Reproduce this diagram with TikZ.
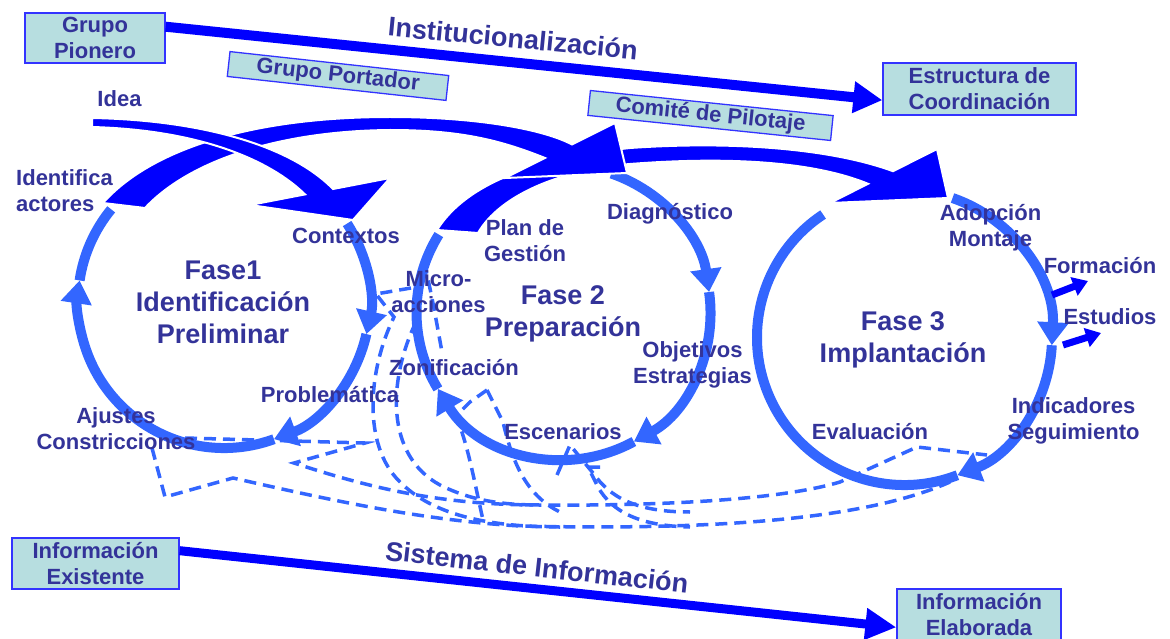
\documentclass[tikz,border=0pt]{standalone}
\usepackage{fontspec}
\setmainfont{Liberation Sans}
\usetikzlibrary{arrows.meta,calc}
\definecolor{txt}{HTML}{333399}
\definecolor{boxfill}{HTML}{B7DEE0}
\definecolor{boxline}{HTML}{3333FF}
\definecolor{bigblue}{HTML}{0000FF}
\definecolor{ringblue}{HTML}{3366FF}
\tikzset{
  lbl/.style={text=txt, font=\bfseries\fontsize{22}{26}\selectfont, align=center, inner sep=0pt},
  faselbl/.style={text=txt, font=\bfseries\fontsize{27}{32}\selectfont, align=center, inner sep=0pt},
  flowlbl/.style={text=txt, font=\bfseries\fontsize{27}{32}\selectfont, inner sep=0pt},
  infobox/.style={draw=boxline, line width=1.3pt, fill=boxfill, text=txt,
    font=\bfseries\fontsize{22}{26}\selectfont, align=center, inner sep=0pt},
  bigarrow/.style={fill=bigblue, draw=white, line width=2pt, line join=miter},
  flowline/.style={draw=bigblue, line width=10pt, -{Triangle[width=30pt,length=29pt]}},
  ring/.style={draw=ringblue, line width=10pt},
  ringtip/.style={-{Triangle[width=30pt,length=23pt]}},
  fb/.style={draw=ringblue, line width=3.5pt, dash pattern=on 12pt off 7pt},
  minor/.style={draw=bigblue, line width=7pt, -{Triangle[width=19pt,length=15pt]}},
}
\begin{document}
\begin{tikzpicture}[x=1pt,y=-1pt]
\fill[white] (0,0) rectangle (1170,639);
\useasboundingbox (0,0) rectangle (1170,639);

% ---------- circles ----------
\coordinate (c1) at (224,302);
\coordinate (c2) at (563.5,312.5);
\coordinate (c3) at (904.5,337.5);
\draw[ring,ringtip] (c1) ++(-32.5:146) arc[start angle=-32.5,end angle=12.7,radius=146];
\draw[ring,ringtip] (c1) ++(12.7:146) arc[start angle=12.7,end angle=70,radius=146];
\draw[ring,ringtip] (c1) ++(70:146) arc[start angle=70,end angle=188.5,radius=146];
\draw[ring] (c1) ++(188.5:146) arc[start angle=188.5,end angle=219.4,radius=146];

\draw[ring,ringtip] (c2) ++(-71:147) arc[start angle=-71,end angle=-8,radius=147];
\draw[ring,ringtip] (c2) ++(-8:147) arc[start angle=-8,end angle=61.4,radius=147];
\draw[ring,ringtip] (c2) ++(61.4:147) arc[start angle=61.4,end angle=148.7,radius=147];
\draw[ring] (c2) ++(148.7:147) arc[start angle=148.7,end angle=212,radius=147];

\draw[ring,ringtip] (c3) ++(-71:147.5) arc[start angle=-71,end angle=3,radius=147.5];
\draw[ring,ringtip] (c3) ++(3:147.5) arc[start angle=3,end angle=69,radius=147.5];
\draw[ring] (c3) ++(69:147.5) arc[start angle=69,end angle=236.5,radius=147.5];

% ---------- big curved arrows ----------
% Fase 2 -> Fase 3
\path[bigarrow] (437,230) .. controls (462,190) and (520,160) .. (630,148)
  .. controls (730,141) and (830,148) .. (893,171.2)
  -- (937,149) -- (948,198) -- (830,203) -- (868,183.8)
  .. controls (810,160) and (720,157) .. (630,164)
  .. controls (560,170) and (500,195) .. (478,233) -- cycle;
% Fase 1 -> Fase 2
\path[bigarrow] (103,203) .. controls (150,150) and (250,117) .. (390,117)
  .. controls (480,117) and (545,130) .. (572,144.5)
  -- (615,123) -- (627,173) -- (505,178) -- (545,158)
  .. controls (500,140) and (460,130) .. (390,130)
  .. controls (280,131) and (190,160) .. (145,208) -- cycle;
% Idea
\path[bigarrow] (92,118) .. controls (200,120) and (290,145) .. (333,189)
  -- (390,178) -- (353,220) -- (250,205) -- (305,194.4)
  .. controls (270,160) and (200,130) .. (92,127) -- cycle;

% ---------- boxes ----------
\node[infobox, minimum width=140pt, minimum height=50pt] (gp) at (95,38) {Grupo\\Pionero};
\node[infobox, minimum width=193pt, minimum height=52pt] (ec) at (979.5,89) {Estructura de\\Coordinación};
\node[infobox, minimum width=167pt, minimum height=51pt] (ie) at (95.5,563.5) {Información\\Existente};
\node[infobox, minimum width=164pt, minimum height=51pt] (iel) at (979,614.5) {Información\\Elaborada};
\node[infobox, minimum width=220pt, minimum height=25pt, rotate=-6.25] (gpo) at (338,76) {Grupo Portador};
\node[infobox, minimum width=244pt, minimum height=25pt, rotate=-5.9] (cp) at (710.5,115.5) {Comité de Pilotaje};

% ---------- straight flows ----------
\draw[flowline] ($(gp.north east)!0.28!(gp.south east)$) -- ($(ec.north west)!0.71!(ec.south west)$);
\draw[flowline, line width=9pt, -{Triangle[width=30pt,length=31pt]}] ($(ie.north east)!0.255!(ie.south east)$) -- ($(iel.north west)!0.745!(iel.south west)$);
\node[flowlbl, rotate=-5.5] (inst) at (513,38) {Institucionalización};
\node[flowlbl, rotate=-6.3] (sis) at (537,567) {Sistema de Información};

% ---------- dashed feedback ----------
\draw[fb] (152,448) -- (165,497) -- (233,478) .. controls (330,500) and (420,520) .. (520,526)
  .. controls (700,530) and (860,522) .. (950,482);
\draw[fb] (185,438) -- (365,443) -- (294,463) .. controls (370,488) and (440,505) .. (540,505)
  .. controls (660,506) and (780,500) .. (840,482) -- (917,447) -- (987,455);
\draw[fb] (411,288) -- (376,294) -- (394,317) .. controls (368,370) and (362,445) .. (400,482)
  .. controls (430,512) and (480,527) .. (560,527);
\draw[fb] (416,322) .. controls (388,380) and (385,455) .. (440,485)
  .. controls (470,500) and (500,505) .. (540,505);
\draw[fb] (424,262) .. controls (432,295) and (437,325) .. (442,352);
\draw[fb] (487,390) -- (470,402) -- (456,416) .. controls (468,445) and (474,480) .. (483,520);
\draw[fb] (487,390) -- (503,422) .. controls (512,460) and (525,495) .. (560,512);
\draw[fb] (557,475) -- (570,445) -- (593,473) .. controls (610,497) and (635,512) .. (690,512);
\draw[fb] (600,467) -- (588,467) -- (598,487) .. controls (612,512) and (640,526) .. (690,527);

% ---------- small output arrows ----------
\coordinate (fa1) at (1052,295);
\coordinate (fa2) at (1088,281);
\coordinate (es1) at (1063,345);
\coordinate (es2) at (1101,333);
\draw[minor] (fa1) -- (fa2);
\draw[minor] (es1) -- (es2);

% ---------- labels ----------
\node[lbl] (idea) at (119.5,99) {Idea};
\node[lbl, align=left, anchor=west] (ident) at (16,190.5) {Identifica\\actores};
\node[lbl] (ctx) at (346,236) {Contextos};
\node[faselbl] (f1) at (223,302) {Fase1\\Identificación\\Preliminar};
\node[lbl] (prob) at (330,395) {Problemática};
\node[lbl] (ajus) at (116,428.5) {Ajustes\\Constricciones};
\node[lbl] (micro) at (438.5,291.5) {Micro-\\acciones};
\node[lbl] (plan) at (525,240.5) {Plan de\\Gestión};
\node[lbl] (diag) at (670,214) {Diagnóstico};
\node[faselbl] (f2) at (563,314) {Fase 2\\Preparación};
\node[lbl] (obj) at (692.5,364.5) {Objetivos\\Estrategias};
\node[lbl] (zon) at (454,368) {Zonificación};
\node[lbl] (esc) at (563,432) {Escenarios};
\node[lbl] (adop) at (990.5,228) {Adopción\\Montaje};
\node[lbl] (form) at (1100,266) {Formación};
\node[lbl] (estu) at (1110,317) {Estudios};
\node[faselbl] (f3) at (903,339.5) {Fase 3\\Implantación};
\node[lbl] (indi) at (1073.5,420.5) {Indicadores\\Seguimiento};
\node[lbl] (eval) at (870,432) {Evaluación};
\end{tikzpicture}
\end{document}
